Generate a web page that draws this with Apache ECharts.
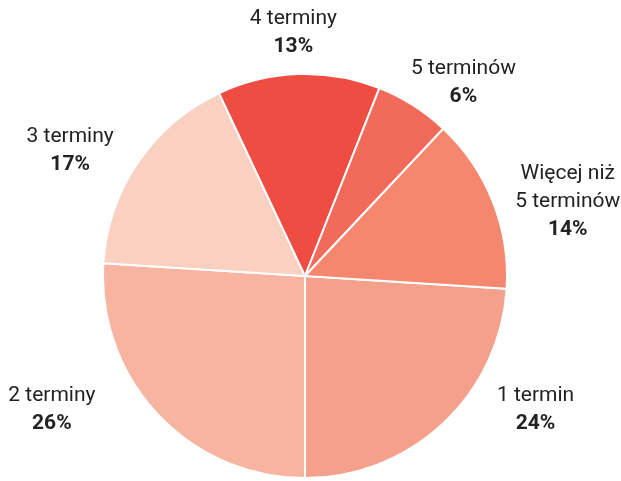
<!DOCTYPE html>
<html>
<head>
<meta charset="utf-8">
<script src="https://cdn.jsdelivr.net/npm/echarts@6/dist/echarts.min.js"></script>
<style>
  html, body { margin: 0; padding: 0; background: #fff; }
  #chart { width: 621px; height: 481px; }
</style>
</head>
<body>
<div id="chart"></div>
<script>
const categories = ['1 termin', '2 terminy', '3 terminy', '4 terminy', '5 terminów', 'Więcej niż\n5 terminów']
const values = [24, 26, 17, 13, 6, 14]
const colors = ['#f5a08a', '#f7b5a1', '#fad0c0', '#ef4c42', '#f26b5a', '#f4876d']
// hand placement of the labels, relative to the default outside spot
const labelNudge = [[52, -56], [-60, -48], [-15, 24], [-4, 0], [16, 31], [4, 28]]

const chart = echarts.init(document.getElementById('chart'))

chart.setOption({
  animation: false,
  color: colors,
  series: [{
    type: 'pie',
    center: [305, 276],
    radius: 202,
    startAngle: -3.6,
    clockwise: true,
    itemStyle: {
      borderColor: '#fff',
      borderWidth: 2
    },
    label: {
      show: true,
      position: 'outside',
      overflow: 'none',
      edgeDistance: 0,
      formatter: p => p.name + '\n{b|' + p.value + '%}',
      fontFamily: 'Roboto',
      fontSize: 21,
      color: '#222',
      lineHeight: 28,
      align: 'center',
      rich: {
        b: {
          fontFamily: 'Roboto',
          fontSize: 21,
          fontWeight: 'bold',
          color: '#222',
          lineHeight: 28,
          align: 'center'
        }
      }
    },
    labelLine: {
      show: true,
      length: 10,
      length2: 0,
      lineStyle: { opacity: 0 }
    },
    labelLayout: function (p) {
      const pts = p.labelLinePoints
      if (!pts) return {}
      const a = pts[0]
      const b = pts[1]
      const dx = b[0] - a[0]
      const dy = b[1] - a[1]
      const len = Math.hypot(dx, dy) || 1
      const ux = dx / len
      const uy = dy / len
      const d = 12 + Math.abs(ux) * p.labelRect.width / 2 + Math.abs(uy) * p.labelRect.height / 2
      const n = labelNudge[p.dataIndex] || [0, 0]
      return {
        x: a[0] + ux * d + n[0],
        y: a[1] + uy * d + n[1],
        align: 'center',
        verticalAlign: 'middle'
      }
    },
    data: categories.map((name, i) => ({ name: name, value: values[i] }))
  }]
})
</script>
</body>
</html>
